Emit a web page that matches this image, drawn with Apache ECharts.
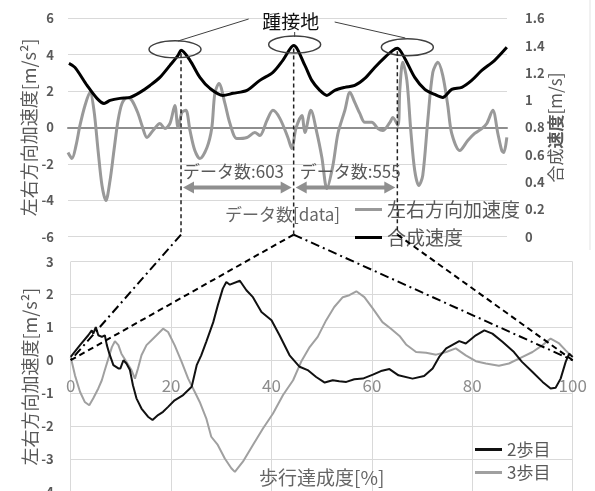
<!DOCTYPE html>
<html><head><meta charset="utf-8">
<script src="https://cdn.jsdelivr.net/npm/echarts@6/dist/echarts.min.js"></script>
<style>html,body{margin:0;padding:0;background:#fff}#c{width:595px;height:491px}</style>
</head><body><div id="c"></div>
<script>
// ---- Top chart: lateral acceleration [m/s^2] vs sample index ----
const lateralAcc = [
[0,-1.38],[21,-1.71],[43,-0.99],[64,0.11],[91,1.21],[118,1.93],[139,0.94],[161,-1.27],[182,-3.19],[203,-4.02],
[225,-2.92],[246,-1.27],[268,0.39],[289,1.32],[316,1.65],[342,1.49],[375,0.77],[396,0.11],[423,-0.55],[455,-0.17],
[492,0.22],[519,-0.06],[546,0.22],[572,1.21],[589,0.0],[610,0.83],[631,0.94],[653,-0.17],[679,-1.27],[706,-1.71],
[744,-1.10],[770,0.0],[786,1.87],[808,2.42],[840,1.32],[867,0.22],[904,-0.61],[958,-0.55],[1000,-0.28],[1027,-0.44],
[1065,0.39],[1097,0.94],[1134,0.50],[1177,-0.55],[1198,-1.16],[1220,-0.06],[1252,0.66],[1268,-0.28],[1300,0.94],[1332,-0.28],
[1359,-1.65],[1386,-3.36],[1418,-2.09],[1445,-0.33],[1482,0.94],[1509,1.93],[1535,1.38],[1562,0.77],[1589,0.28],[1626,0.28],
[1659,-0.06],[1685,-0.17],[1723,0.28],[1739,0.55],[1766,0.11],[1776,2.04],[1792,3.58],[1814,2.59],[1835,-0.17],[1856,-2.37],
[1878,-3.19],[1899,-2.64],[1926,0.39],[1953,3.03],[1980,3.58],[2006,2.86],[2033,1.21],[2054,-0.33],[2097,-1.27],[2140,-0.72],
[2177,-0.33],[2215,-0.06],[2242,0.22],[2274,0.94],[2301,-0.33],[2322,-1.27],[2333,-1.38],[2349,-0.55]
];
// ---- Top chart: synthetic speed [m/s] ----
const synthSpeed = [
[5,1.27],[37,1.24],[102,1.108],[155,1.013],[193,0.976],[225,0.998],[278,1.013],[332,1.02],[385,1.057],[439,1.108],
[492,1.167],[546,1.255],[589,1.328],[605,1.365],[653,1.292],[706,1.167],[760,1.086],[829,1.035],[883,1.05],[958,1.072],
[1027,1.145],[1097,1.204],[1150,1.292],[1208,1.40],[1268,1.255],[1305,1.145],[1348,1.072],[1386,1.035],[1428,1.072],[1482,1.094],
[1535,1.108],[1589,1.16],[1642,1.24],[1696,1.314],[1739,1.365],[1763,1.38],[1803,1.306],[1856,1.167],[1910,1.079],[1963,1.042],
[2006,1.02],[2054,1.079],[2108,1.094],[2161,1.145],[2215,1.218],[2284,1.292],[2349,1.387]
];
const heelStrikeIdx = [605, 1208, 1763];
const dataCountLabels = ['データ数:603', 'データ数:555'];

// ---- Bottom chart: lateral acceleration vs gait progress [%] ----
const step2 = [
[0,0.10],[1.85,0.46],[3.5,0.76],[4.2,0.91],[4.5,0.81],[5.0,1.01],[5.5,0.76],[6.2,0.71],[6.8,0.76],[7.2,0.46],
[7.7,0.20],[8.5,-0.15],[9.5,-0.25],[9.9,-0.25],[10.5,0.0],[11.1,-0.10],[11.8,-0.30],[12.4,-0.76],[13.1,-1.16],[14.1,-1.47],
[15.4,-1.72],[16.3,-1.82],[17.4,-1.67],[18.4,-1.57],[19.4,-1.42],[20.7,-1.22],[22.4,-1.06],[24.1,-0.81],[25.1,-0.15],[26.0,0.15],
[27.0,0.56],[28.4,1.16],[29.3,1.67],[30.3,2.18],[31.0,2.38],[31.7,2.30],[33.7,2.42],[35.0,2.13],[36.3,1.92],[38.0,1.47],
[40.0,1.22],[41.6,0.76],[43.6,0.15],[45.6,-0.20],[47.2,-0.30],[48.9,-0.51],[50.6,-0.68],[52.2,-0.61],[53.5,-0.64],[54.9,-0.66],
[56.5,-0.58],[58.2,-0.56],[60.2,-0.44],[61.8,-0.33],[63.5,-0.27],[65.3,-0.46],[68.1,-0.56],[70.4,-0.48],[72.1,-0.25],[73.4,0.10],
[74.8,0.36],[77.4,0.58],[78.7,0.51],[80.7,0.76],[82.4,0.91],[84.0,0.81],[86.0,0.56],[88.3,0.25],[89.9,-0.05],[92.0,-0.36],
[94.0,-0.66],[95.6,-0.86],[96.6,-0.84],[97.6,-0.56],[98.6,-0.05],[99.3,0.20],[100,0.10]
];
const step3 = [
[0,0.10],[0.85,-0.46],[1.85,-0.96],[2.8,-1.27],[3.7,-1.37],[4.5,-1.16],[5.5,-0.86],[6.2,-0.61],[6.8,-0.30],[7.5,0.05],
[8.2,0.40],[8.8,0.58],[9.5,0.46],[10.1,0.20],[11.1,-0.05],[12.1,-0.30],[12.8,-0.56],[13.4,-0.25],[14.1,0.15],[15.1,0.46],
[16.1,0.61],[17.1,0.76],[18.4,0.96],[19.4,0.86],[20.7,0.46],[22.1,-0.05],[23.4,-0.56],[24.7,-0.96],[25.7,-1.27],[27.0,-1.77],
[28.0,-2.33],[29.3,-2.58],[30.7,-2.99],[32.0,-3.29],[32.7,-3.40],[34.3,-3.09],[36.3,-2.58],[38.3,-2.08],[40.3,-1.62],[42.3,-1.06],
[44.3,-0.61],[45.9,-0.05],[47.6,0.40],[49.2,0.71],[50.9,1.22],[52.5,1.62],[54.2,1.92],[55.5,1.98],[56.9,2.10],[58.5,1.92],
[60.2,1.57],[62.1,1.16],[63.8,0.96],[65.5,0.74],[66.8,0.48],[68.8,0.25],[70.8,0.23],[72.8,0.17],[74.8,0.25],[76.7,0.36],
[78.7,0.15],[80.7,-0.03],[82.7,-0.10],[85.3,-0.17],[87.3,-0.10],[89.3,0.05],[92.0,0.25],[94.0,0.46],[95.6,0.66],[97.3,0.51],
[98.6,0.30],[99.6,0.15]
];

const FONT = '"Noto Sans CJK JP","Noto Sans",sans-serif';
const TXT = '#595959';
const GRID = '#d9d9d9';
const G0 = {left: 68, top: 18.3, width: 439, height: 218.3};
const G1 = {left: 70.7, top: 261.7, width: 502, height: 229.9};
const Y0 = {min: -6, max: 6};
const Y2 = {min: -4, max: 3};
// shift the x axes from the grid bottom up to the zero line
const off0 = -G0.height * (0 - Y0.min) / (Y0.max - Y0.min);
const off1 = -G1.height * (0 - Y2.min) / (Y2.max - Y2.min);

const chart = echarts.init(document.getElementById('c'), null, {renderer: 'canvas'});

const option = {
  animation: false,
  textStyle: {fontFamily: FONT},
  grid: [
    Object.assign({outerBoundsMode: 'none', containLabel: false}, G0),
    Object.assign({outerBoundsMode: 'none', containLabel: false}, G1)
  ],
  xAxis: [
    {type: 'value', gridIndex: 0, min: 0, max: 2350, offset: off0,
     axisLine: {onZero: false, lineStyle: {color: '#8e8e8e', width: 2}},
     axisTick: {show: false}, axisLabel: {show: false}, splitLine: {show: false},
     name: 'データ数[data]', nameLocation: 'middle', nameGap: 79, nameMoveOverlap: false,
     nameTextStyle: {fontSize: 17, color: '#666', padding: [0, 10, 0, 0]}},
    {type: 'value', gridIndex: 1, min: 0, max: 100, interval: 20, offset: off1,
     axisLine: {onZero: false, lineStyle: {color: GRID, width: 1}},
     axisTick: {show: false}, axisLabel: {fontSize: 17, color: '#8c8c8c', margin: 17},
     splitLine: {show: true, lineStyle: {color: GRID}},
     name: '歩行達成度[%]', nameLocation: 'middle', nameGap: 108, nameMoveOverlap: false,
     nameTextStyle: {fontSize: 19, color: '#666'}}
  ],
  yAxis: [
    {type: 'value', gridIndex: 0, min: Y0.min, max: Y0.max, interval: 2,
     axisLine: {show: false, onZero: false}, axisTick: {show: false},
     axisLabel: {fontSize: 13, fontWeight: 'bold', color: TXT, margin: 14},
     splitLine: {lineStyle: {color: GRID}},
     name: '左右方向加速度[m/s²]', nameLocation: 'middle', nameRotate: 90, nameGap: 30, nameMoveOverlap: false,
     nameTextStyle: {fontSize: 18, color: TXT}},
    {type: 'value', gridIndex: 0, position: 'right', min: 0, max: 1.6, interval: 0.2,
     axisLine: {show: false, onZero: false}, axisTick: {show: false},
     axisLabel: {fontSize: 13, fontWeight: 'bold', color: TXT, margin: 18},
     splitLine: {show: false},
     name: '合成{b|速度}[m/s]', nameLocation: 'middle', nameRotate: 90, nameGap: 40, nameMoveOverlap: false,
     nameTextStyle: {fontSize: 17, color: TXT, rich: {b: {fontSize: 17, fontWeight: 'bold', color: TXT}}}},
    {type: 'value', gridIndex: 1, min: Y2.min, max: Y2.max, interval: 1,
     axisLine: {show: false, onZero: false}, axisTick: {show: false},
     axisLabel: {fontSize: 13, fontWeight: 'bold', color: TXT, margin: 17},
     splitLine: {lineStyle: {color: GRID}},
     name: '左右方向加速度[m/s²]', nameLocation: 'middle', nameRotate: 90, nameGap: 32, nameMoveOverlap: false,
     nameTextStyle: {fontSize: 18, color: TXT}}
  ],
  legend: [
    {data: ['左右方向加速度', '合成速度'], orient: 'vertical', left: 350, top: 195,
     icon: 'rect', itemWidth: 27, itemHeight: 3, itemGap: 9,
     textStyle: {fontSize: 19, color: TXT}},
    {data: ['2歩目', '3歩目'], orient: 'vertical', left: 470, top: 436,
     icon: 'rect', itemWidth: 27, itemHeight: 3, itemGap: 6,
     textStyle: {fontSize: 17, color: TXT}}
  ],
  series: [
    {name: '左右方向加速度', type: 'line', xAxisIndex: 0, yAxisIndex: 0, data: lateralAcc,
     symbol: 'none', smooth: 0.3, color: '#999', lineStyle: {color: '#999', width: 3}, z: 2},
    {name: '合成速度', type: 'line', xAxisIndex: 0, yAxisIndex: 1, data: synthSpeed,
     symbol: 'none', smooth: 0.3, color: '#000', lineStyle: {color: '#000', width: 3}, z: 3},
    {name: '2歩目', type: 'line', xAxisIndex: 1, yAxisIndex: 2, data: step2,
     symbol: 'none', color: '#111', lineStyle: {color: '#111', width: 2}, z: 3},
    {name: '3歩目', type: 'line', xAxisIndex: 1, yAxisIndex: 2, data: step3,
     symbol: 'none', color: '#a0a0a0', lineStyle: {color: '#a0a0a0', width: 2}, z: 2}
  ]
};
chart.setOption(option);

// ---- annotations anchored to data positions ----
const px = (xi, yi, x, y) => chart.convertToPixel({xAxisIndex: xi, yAxisIndex: yi}, [x, y]);
const peaks = heelStrikeIdx.map(i => {
  const pt = synthSpeed.find(d => d[0] === i);
  return px(0, 1, pt[0], pt[1]);
});
const topBottom = px(0, 0, 0, -6)[1] - 2;
const origin2 = px(1, 2, 0, 0);
const end2 = px(1, 2, 100, 0);
const arrowY = px(0, 0, 0, -3.3)[1];
const countY = px(0, 0, 0, -2.42)[1];

const g = [];
const Z = 100;
const line = (x1, y1, x2, y2, style) => g.push({type: 'line', z: Z, silent: true,
  shape: {x1, y1, x2, y2}, style: Object.assign({stroke: '#000', lineWidth: 1}, style)});

const ellOff = [-6, 1, 10];
peaks.forEach((p, k) => g.push({type: 'ellipse', z: Z, silent: true,
  shape: {cx: p[0] + ellOff[k], cy: p[1] - 1, rx: 26, ry: 8.5},
  style: {fill: 'none', stroke: '#404040', lineWidth: 1.5}}));

const mid = peaks[1][0];
g.push({type: 'text', z: Z, silent: true,
  style: {text: '踵接地', x: mid - 3, y: 22, align: 'center', verticalAlign: 'middle',
          fontSize: 19, fontFamily: FONT, fill: '#111'}});
line(mid - 45, 19, peaks[0][0] - 3, 41, {stroke: '#404040'});
line(mid + 1, 32, mid + 1, 37, {stroke: '#404040'});
line(mid + 41, 22, peaks[2][0] + 8, 38, {stroke: '#404040'});

peaks.forEach(p => line(p[0], p[1] + 3, p[0], topBottom, {lineWidth: 1.5, lineDash: [4, 3], stroke: '#222'}));

const dashDot = {lineWidth: 2, lineDash: [9, 4, 2, 4], stroke: '#000'};
const dashed = {lineWidth: 2, lineDash: [6, 4], stroke: '#000'};
line(peaks[0][0], topBottom, origin2[0], origin2[1], dashDot);
line(peaks[1][0], topBottom, origin2[0], origin2[1], dashed);
line(peaks[1][0], topBottom, end2[0], end2[1], dashDot);
line(peaks[2][0], topBottom, end2[0], end2[1], dashed);

const ARW = '#8f8f8f';
for (let k = 0; k < 2; k++) {
  const a = peaks[k][0] + 2, b = peaks[k + 1][0] - 2;
  line(a + 8, arrowY, b - 8, arrowY, {stroke: ARW, lineWidth: 4});
  g.push({type: 'polygon', z: Z, silent: true, shape: {points: [[a, arrowY], [a + 11, arrowY - 6], [a + 11, arrowY + 6]]}, style: {fill: ARW}});
  g.push({type: 'polygon', z: Z, silent: true, shape: {points: [[b, arrowY], [b - 11, arrowY - 6], [b - 11, arrowY + 6]]}, style: {fill: ARW}});
  g.push({type: 'text', z: Z, silent: true,
    style: {text: dataCountLabels[k], x: peaks[k][0] + (k === 0 ? 2 : 6), y: countY, align: 'left', verticalAlign: 'middle',
            fontSize: 17, fontFamily: FONT, fill: TXT}});
}
line(590, 0, 590, 250, {stroke: '#e3e3e3'});

chart.setOption({graphic: {elements: g}});
</script>
</body></html>
